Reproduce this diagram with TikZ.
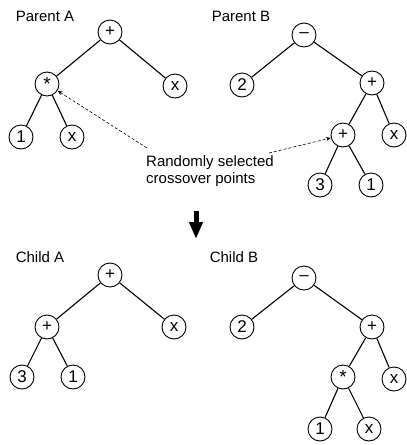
\documentclass[tikz,border=0pt]{standalone}
\usepackage{fontspec}
\setmainfont{Liberation Sans}
\usetikzlibrary{arrows.meta}
\newcommand{\mulsign}{\raisebox{-3.5pt}{\fontsize{19}{19}\selectfont *}}
\tikzset{
  gpnode/.style={circle, draw, line width=0.9pt, minimum size=24pt, inner sep=0pt, font=\fontsize{17}{17}\selectfont},
  gpedge/.style={line width=1.1pt},
  title/.style={font=\fontsize{15}{17}\selectfont},
  pointer/.style={densely dashed, line width=0.6pt, -{Stealth[length=5pt,width=4pt]}}
}
\begin{document}
\begin{tikzpicture}[x=1pt, y=-1pt]
        \useasboundingbox (0,0) rectangle (407,445);
        % Parent A
        \node[title] (pa) at (45,16) {Parent A};
        \node[gpnode] (a0) at (110,32) {+};
        \node[gpnode] (a1) at (47,84) {\mulsign};
        \node[gpnode] (a2) at (175,86) {x};
        \node[gpnode] (a3) at (21,137) {1};
        \node[gpnode] (a4) at (72,137) {x};
        \draw[gpedge] (a0) -- (a1);
        \draw[gpedge] (a0) -- (a2);
        \draw[gpedge] (a1) -- (a3);
        \draw[gpedge] (a1) -- (a4);
        % Parent B
        \node[title] (pb) at (241,16) {Parent B};
        \node[gpnode] (b0) at (304,35) {\textendash};
        \node[gpnode] (b1) at (242,85) {2};
        \node[gpnode] (b2) at (372,83) {+};
        \node[gpnode] (b3) at (343,135) {+};
        \node[gpnode] (b4) at (394,135) {x};
        \node[gpnode] (b5) at (320,185) {3};
        \node[gpnode] (b6) at (371,185) {1};
        \draw[gpedge] (b0) -- (b1);
        \draw[gpedge] (b0) -- (b2);
        \draw[gpedge] (b2) -- (b3);
        \draw[gpedge] (b2) -- (b4);
        \draw[gpedge] (b3) -- (b5);
        \draw[gpedge] (b3) -- (b6);
        % Crossover points
        \node[title, align=left] (cx) at (210,171) {Randomly selected\\crossover points};
        \coordinate (cxa) at (147,148);
        \coordinate (cxb) at (269,153);
        \draw[pointer] (cxa) -- (a1);
        \draw[pointer] (cxb) -- (b3);
        % Big arrow
        \coordinate (go1) at (196,211);
        \coordinate (go2) at (196,239);
        \draw[line width=5pt, -{Triangle[width=13pt,length=17pt]}] (go1) -- (go2);
        % Child A
        \node[title] (ca) at (40,257) {Child A};
        \node[gpnode] (c0) at (110,275) {+};
        \node[gpnode] (c1) at (47,327) {+};
        \node[gpnode] (c2) at (174,327) {x};
        \node[gpnode] (c3) at (22,377) {3};
        \node[gpnode] (c4) at (73,377) {1};
        \draw[gpedge] (c0) -- (c1);
        \draw[gpedge] (c0) -- (c2);
        \draw[gpedge] (c1) -- (c3);
        \draw[gpedge] (c1) -- (c4);
        % Child B
        \node[title] (cb) at (234,257) {Child B};
        \node[gpnode] (d0) at (304,278) {\textendash};
        \node[gpnode] (d1) at (242,327) {2};
        \node[gpnode] (d2) at (372,327) {+};
        \node[gpnode] (d3) at (343,377) {\mulsign};
        \node[gpnode] (d4) at (394,379) {x};
        \node[gpnode] (d5) at (320,429) {1};
        \node[gpnode] (d6) at (369,429) {x};
        \draw[gpedge] (d0) -- (d1);
        \draw[gpedge] (d0) -- (d2);
        \draw[gpedge] (d2) -- (d3);
        \draw[gpedge] (d2) -- (d4);
        \draw[gpedge] (d3) -- (d5);
        \draw[gpedge] (d3) -- (d6);
    \end{tikzpicture}
\end{document}
